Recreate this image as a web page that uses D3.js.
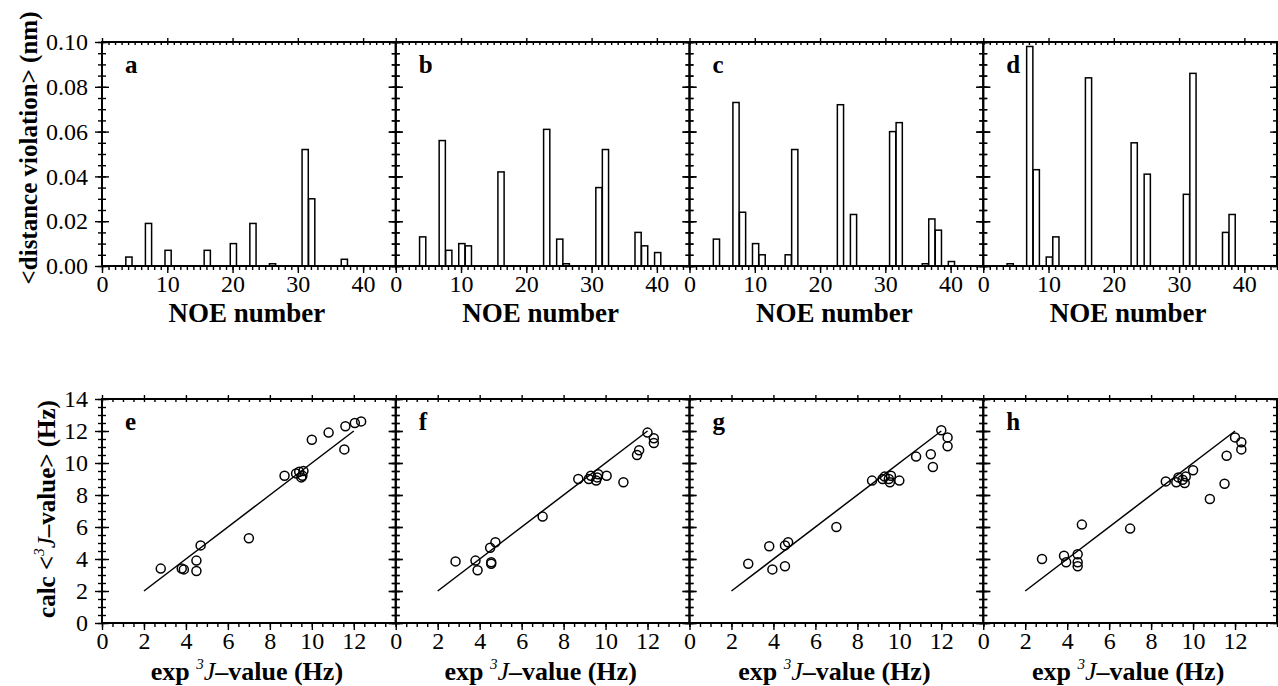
<!DOCTYPE html>
<html><head><meta charset="utf-8">
<script src="https://cdn.jsdelivr.net/npm/d3@7"></script>
<style>body{margin:0;background:#fff} svg{display:block}</style>
</head><body><svg id="c" width="1278" height="686"></svg>
<script>
// ---------- DATA ----------
const topLetters = ["a", "b", "c", "d"];
const bottomLetters = ["e", "f", "g", "h"];
const noeTicks = [0, 10, 20, 30, 40];
const violTicks = [0, 0.02, 0.04, 0.06, 0.08, 0.10];
const jTicksX = [0, 2, 4, 6, 8, 10, 12];
const jTicksY = [0, 2, 4, 6, 8, 10, 12, 14];

// [NOE number, <distance violation> nm]
const violA = [[4,.004],[7,.019],[10,.007],[16,.007],[20,.010],[23,.019],[26,.001],[31,.052],[32,.030],[37,.003]];
const violB = [[4,.013],[7,.056],[8,.007],[10,.010],[11,.009],[16,.042],[23,.061],[25,.012],[26,.001],[31,.035],[32,.052],[37,.015],[38,.009],[40,.006]];
const violC = [[4,.012],[7,.073],[8,.024],[10,.010],[11,.005],[15,.005],[16,.052],[23,.072],[25,.023],[31,.060],[32,.064],[36,.001],[37,.021],[38,.016],[40,.002]];
const violD = [[4,.001],[7,.098],[8,.043],[10,.004],[11,.013],[16,.084],[23,.055],[25,.041],[31,.032],[32,.086],[37,.015],[38,.023]];

// [exp 3J, calc <3J>] Hz
const jE = [[2.8,3.4],[3.8,3.4],[3.9,3.35],[4.5,3.9],[4.5,3.25],[4.7,4.85],[7.0,5.3],[8.7,9.2],[9.25,9.35],[9.4,9.45],[9.55,9.2],[9.6,9.5],[9.5,9.1],[10.0,11.45],[10.8,11.9],[11.55,10.85],[11.6,12.3],[12.05,12.5],[12.35,12.6]];
const jF = [[2.85,3.85],[3.8,3.9],[3.9,3.3],[4.55,3.8],[4.55,3.7],[4.5,4.7],[4.75,5.05],[7.0,6.65],[8.7,9.0],[9.2,9.0],[9.3,9.2],[9.55,8.9],[9.65,9.3],[9.6,9.1],[10.05,9.2],[10.85,8.8],[11.5,10.5],[11.6,10.8],[12.0,11.9],[12.3,11.55],[12.3,11.25]];
const jG = [[2.8,3.7],[3.8,4.8],[3.95,3.35],[4.55,3.55],[4.55,4.85],[4.7,5.05],[7.0,6.0],[8.7,8.9],[9.2,9.0],[9.3,9.15],[9.55,8.8],[9.6,9.2],[9.5,9.0],[10.0,8.9],[10.8,10.4],[11.5,10.55],[11.6,9.75],[12.0,12.05],[12.3,11.6],[12.3,11.05]];
const jH = [[2.8,4.0],[3.85,4.2],[3.95,3.8],[4.5,4.3],[4.5,3.8],[4.5,3.55],[4.7,6.15],[7.0,5.9],[8.7,8.85],[9.2,8.8],[9.3,9.1],[9.6,8.75],[9.65,9.15],[9.5,8.95],[10.0,9.55],[10.8,7.75],[11.5,8.7],[11.6,10.45],[12.0,11.6],[12.3,11.3],[12.3,10.85]];
const fitLine = [[2,2],[12,12]];

const violData = [violA, violB, violC, violD];
const jData = [jE, jF, jG, jH];

// ---------- LAYOUT ----------
const SERIF = '"Liberation Serif"';
const svg = d3.select("#c");
const lefts = [102, 395.75, 689.5, 983.25];
const PW = 293.75;
const topRow = {y0: 266, y1: 42};
const botRow = {y0: 623, y1: 399};

function styleAxis(sel) {
  sel.select(".domain").remove();
  sel.selectAll(".tick line").attr("stroke", "#000").attr("stroke-width", 1.4);
  sel.attr("font-size", 24).attr("font-family", null);
  sel.selectAll("text").attr("fill", "#000").style("font-family", SERIF);
}

function drawFrame(g, x, y, o) {
  const [x0, x1] = x.range();
  const [yb, yt] = y.range();
  g.append("g").attr("transform", `translate(0,${yb})`)
    .call(d3.axisBottom(x).tickValues(o.xMinor).tickSize(4).tickFormat("")).call(styleAxis);
  g.append("g").attr("transform", `translate(0,${yb})`)
    .call(d3.axisBottom(x).tickValues(o.xMajor).tickSize(7).tickPadding(o.xPad).tickFormat(d3.format("d"))).call(styleAxis);
  g.append("g").attr("transform", `translate(0,${yt})`)
    .call(d3.axisBottom(x).tickValues(o.xMinor).tickSize(3).tickFormat("")).call(styleAxis);
  g.append("g").attr("transform", `translate(0,${yt})`)
    .call(d3.axisTop(x).tickValues(o.xMajor).tickSize(4).tickFormat("")).call(styleAxis);
  for (const xx of [x0, x1]) {
    for (const [vals, s] of [[o.yMinor, 4], [o.yMajor, 7]]) {
      g.append("g").attr("transform", `translate(${xx},0)`)
        .call(d3.axisLeft(y).tickValues(vals).tickSize(s).tickFormat("")).call(styleAxis);
      g.append("g").attr("transform", `translate(${xx},0)`)
        .call(d3.axisRight(y).tickValues(vals).tickSize(s).tickFormat("")).call(styleAxis);
    }
  }
  if (o.yLabels) {
    g.append("g").attr("transform", `translate(${x0},0)`)
      .call(d3.axisLeft(y).tickValues(o.yMajor).tickSize(0).tickPadding(14).tickFormat(o.yFmt)).call(styleAxis);
  }
  g.append("rect").attr("x", x0).attr("y", yt).attr("width", x1 - x0).attr("height", yb - yt)
    .attr("fill", "none").attr("stroke", "#000").attr("stroke-width", 2);
  g.append("text").attr("x", x0 + 23).attr("y", yt + 31)
    .attr("font-size", 25).attr("font-weight", "bold").style("font-family", SERIF).text(o.letter);
}

// ---------- TOP ROW ----------
violData.forEach((data, i) => {
  const g = svg.append("g");
  const x = d3.scaleLinear().domain([0, 45]).range([lefts[i], lefts[i] + PW]);
  const y = d3.scaleLinear().domain([0, 0.1]).range([topRow.y0, topRow.y1]);
  g.selectAll("rect.bar").data(data).join("rect").attr("class", "bar")
    .attr("x", d => x(d[0] - 0.35)).attr("width", d => x(d[0] + 0.6) - x(d[0] - 0.35))
    .attr("y", d => y(d[1])).attr("height", d => y(0) - y(d[1]))
    .attr("fill", "#fff").attr("stroke", "#000").attr("stroke-width", 1.5);
  drawFrame(g, x, y, {
    xMinor: d3.range(0, 46, 1), xMajor: noeTicks, xPad: 2,
    yMinor: d3.range(0, 21).map(k => k * 0.005), yMajor: violTicks,
    yLabels: i === 0, yFmt: d3.format(".2f"), letter: topLetters[i]
  });
  g.append("text").attr("x", lefts[i] + PW / 2 - 2).attr("y", 322).attr("text-anchor", "middle")
    .attr("font-size", 27).attr("font-weight", "bold").style("font-family", SERIF).text("NOE number");
});

// ---------- BOTTOM ROW ----------
jData.forEach((data, i) => {
  const g = svg.append("g");
  const x = d3.scaleLinear().domain([0, 14]).range([lefts[i], lefts[i] + PW]);
  const y = d3.scaleLinear().domain([0, 14]).range([botRow.y0, botRow.y1]);
  g.append("path").datum(fitLine)
    .attr("d", d3.line().x(d => x(d[0])).y(d => y(d[1])))
    .attr("fill", "none").attr("stroke", "#000").attr("stroke-width", 1.5);
  g.selectAll("circle").data(data).join("circle")
    .attr("cx", d => x(d[0])).attr("cy", d => y(d[1])).attr("r", 4.5)
    .attr("fill", "none").attr("stroke", "#000").attr("stroke-width", 1.5);
  drawFrame(g, x, y, {
    xMinor: d3.range(0, 14.01, 0.5), xMajor: jTicksX, xPad: 2,
    yMinor: d3.range(0, 14.01, 0.5), yMajor: jTicksY,
    yLabels: i === 0, yFmt: d3.format("d"), letter: bottomLetters[i]
  });
  const t = g.append("text").attr("x", lefts[i] + PW / 2 - 2).attr("y", 680).attr("text-anchor", "middle")
    .attr("font-size", 26).attr("font-weight", "bold").style("font-family", SERIF);
  t.append("tspan").text("exp ");
  t.append("tspan").attr("font-size", 15).attr("font-style", "italic").attr("font-weight", "normal").attr("dy", -11).text("3");
  t.append("tspan").attr("font-style", "italic").attr("font-weight", "normal").attr("dy", 11).text("J");
  t.append("tspan").text("–value (Hz)");
});

// ---------- Y TITLES ----------
svg.append("text").attr("transform", "translate(37,148) rotate(-90)").attr("text-anchor", "middle")
  .attr("font-size", 25).attr("font-weight", "bold").style("font-family", SERIF)
  .text("<distance violation> (nm)");
const yt2 = svg.append("text").attr("transform", "translate(55,509) rotate(-90)").attr("text-anchor", "middle")
  .attr("font-size", 25).attr("font-weight", "bold").style("font-family", SERIF);
yt2.append("tspan").text("calc <");
yt2.append("tspan").attr("font-size", 15).attr("font-style", "italic").attr("font-weight", "normal").attr("dy", -11).text("3");
yt2.append("tspan").attr("font-style", "italic").attr("font-weight", "normal").attr("dy", 11).text("J");
yt2.append("tspan").text("–value> (Hz)");
</script>
</body></html>
